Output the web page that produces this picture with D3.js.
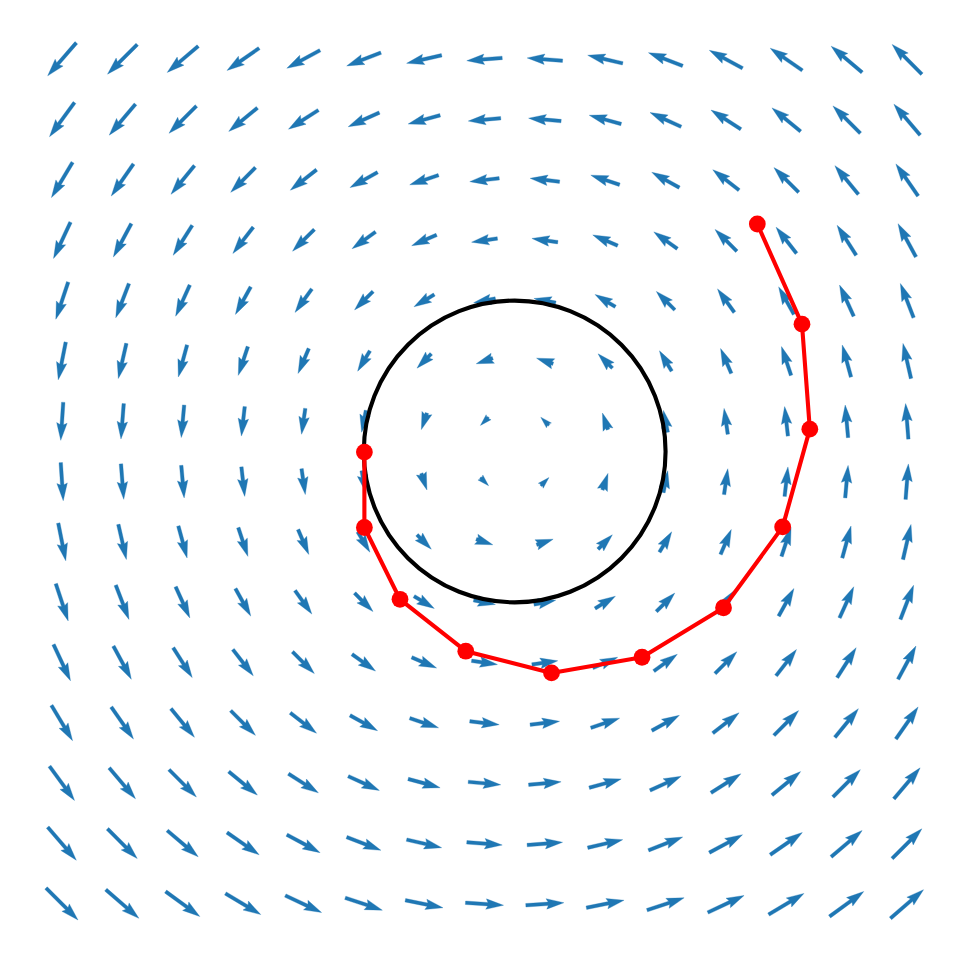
<!DOCTYPE html>
<html>
<head>
<meta charset="utf-8">
<script src="https://cdn.jsdelivr.net/npm/d3@7"></script>
<style>
  html, body { margin: 0; padding: 0; background: #ffffff; }
  svg { display: block; }
</style>
</head>
<body>
<div id="chart"></div>
<script>
// ---- data ----
// grid coordinates (data units)
const gridX = [0, 1, 2, 3, 4, 5, 6, 7, 8, 9, 10, 11, 12, 13, 14];
const gridY = [0, 1, 2, 3, 4, 5, 6, 7, 8, 9, 10, 11, 12, 13, 14];

// U (x-component) rows indexed by gridY, columns by gridX
const fieldU = [
  [ 2.30, 2.38, 2.46, 2.54, 2.61, 2.67, 2.71, 2.74, 2.74, 2.71, 2.67, 2.61, 2.54, 2.46, 2.38],
  [ 2.06, 2.14, 2.23, 2.31, 2.39, 2.46, 2.52, 2.55, 2.55, 2.52, 2.46, 2.39, 2.31, 2.23, 2.14],
  [ 1.80, 1.89, 1.97, 2.06, 2.15, 2.24, 2.30, 2.34, 2.34, 2.30, 2.24, 2.15, 2.06, 1.97, 1.89],
  [ 1.52, 1.60, 1.69, 1.78, 1.89, 1.98, 2.07, 2.12, 2.12, 2.07, 1.98, 1.89, 1.78, 1.69, 1.60],
  [ 1.22, 1.29, 1.37, 1.47, 1.57, 1.69, 1.79, 1.86, 1.86, 1.79, 1.69, 1.57, 1.47, 1.37, 1.29],
  [ 0.89, 0.95, 1.02, 1.10, 1.21, 1.33, 1.46, 1.57, 1.57, 1.46, 1.33, 1.21, 1.10, 1.02, 0.95],
  [ 0.54, 0.58, 0.63, 0.69, 0.77, 0.88, 1.03, 1.19, 1.19, 1.03, 0.88, 0.77, 0.69, 0.63, 0.58],
  [ 0.18, 0.20, 0.21, 0.24, 0.27, 0.31, 0.40, 0.59, 0.59, 0.40, 0.31, 0.27, 0.24, 0.21, 0.20],
  [-0.18,-0.20,-0.21,-0.24,-0.27,-0.31,-0.40,-0.59,-0.59,-0.40,-0.31,-0.27,-0.24,-0.21,-0.20],
  [-0.54,-0.58,-0.63,-0.69,-0.77,-0.88,-1.03,-1.19,-1.19,-1.03,-0.88,-0.77,-0.69,-0.63,-0.58],
  [-0.89,-0.95,-1.02,-1.10,-1.21,-1.33,-1.46,-1.57,-1.57,-1.46,-1.33,-1.21,-1.10,-1.02,-0.95],
  [-1.22,-1.29,-1.37,-1.47,-1.57,-1.69,-1.79,-1.86,-1.86,-1.79,-1.69,-1.57,-1.47,-1.37,-1.29],
  [-1.52,-1.60,-1.69,-1.78,-1.89,-1.98,-2.07,-2.12,-2.12,-2.07,-1.98,-1.89,-1.78,-1.69,-1.60],
  [-1.80,-1.89,-1.97,-2.06,-2.15,-2.24,-2.30,-2.34,-2.34,-2.30,-2.24,-2.15,-2.06,-1.97,-1.89],
  [-2.06,-2.14,-2.23,-2.31,-2.39,-2.46,-2.52,-2.55,-2.55,-2.52,-2.46,-2.39,-2.31,-2.23,-2.14]
];

// V (y-component) rows indexed by gridY, columns by gridX
const fieldV = [
  [-2.30,-2.06,-1.80,-1.52,-1.22,-0.89,-0.54,-0.18, 0.18, 0.54, 0.89, 1.22, 1.52, 1.80, 2.06],
  [-2.38,-2.14,-1.89,-1.60,-1.29,-0.95,-0.58,-0.20, 0.20, 0.58, 0.95, 1.29, 1.60, 1.89, 2.14],
  [-2.46,-2.23,-1.97,-1.69,-1.37,-1.02,-0.63,-0.21, 0.21, 0.63, 1.02, 1.37, 1.69, 1.97, 2.23],
  [-2.54,-2.31,-2.06,-1.78,-1.47,-1.10,-0.69,-0.24, 0.24, 0.69, 1.10, 1.47, 1.78, 2.06, 2.31],
  [-2.61,-2.39,-2.15,-1.89,-1.57,-1.21,-0.77,-0.27, 0.27, 0.77, 1.21, 1.57, 1.89, 2.15, 2.39],
  [-2.67,-2.46,-2.24,-1.98,-1.69,-1.33,-0.88,-0.31, 0.31, 0.88, 1.33, 1.69, 1.98, 2.24, 2.46],
  [-2.71,-2.52,-2.30,-2.07,-1.79,-1.46,-1.03,-0.40, 0.40, 1.03, 1.46, 1.79, 2.07, 2.30, 2.52],
  [-2.74,-2.55,-2.34,-2.12,-1.86,-1.57,-1.19,-0.59, 0.59, 1.19, 1.57, 1.86, 2.12, 2.34, 2.55],
  [-2.74,-2.55,-2.34,-2.12,-1.86,-1.57,-1.19,-0.59, 0.59, 1.19, 1.57, 1.86, 2.12, 2.34, 2.55],
  [-2.71,-2.52,-2.30,-2.07,-1.79,-1.46,-1.03,-0.40, 0.40, 1.03, 1.46, 1.79, 2.07, 2.30, 2.52],
  [-2.67,-2.46,-2.24,-1.98,-1.69,-1.33,-0.88,-0.31, 0.31, 0.88, 1.33, 1.69, 1.98, 2.24, 2.46],
  [-2.61,-2.39,-2.15,-1.89,-1.57,-1.21,-0.77,-0.27, 0.27, 0.77, 1.21, 1.57, 1.89, 2.15, 2.39],
  [-2.54,-2.31,-2.06,-1.78,-1.47,-1.10,-0.69,-0.24, 0.24, 0.69, 1.10, 1.47, 1.78, 2.06, 2.31],
  [-2.46,-2.23,-1.97,-1.69,-1.37,-1.02,-0.63,-0.21, 0.21, 0.63, 1.02, 1.37, 1.69, 1.97, 2.23],
  [-2.38,-2.14,-1.89,-1.60,-1.29,-0.95,-0.58,-0.20, 0.20, 0.58, 0.95, 1.29, 1.60, 1.89, 2.14]
];

// circle (data units)
const circleCenter = [7.5, 7.5];
const circleRadius = 2.5;

// red trajectory (data units)
const trajX = [11.52, 12.26, 12.39, 11.94, 10.96, 9.61, 8.11, 6.69, 5.60, 5.01, 5.01];
const trajY = [11.27, 9.61, 7.87, 6.25, 4.91, 4.09, 3.83, 4.19, 5.05, 6.24, 7.49];

// ---- drawing ----
const W = 969, H = 964;
const svg = d3.select("#chart").append("svg")
  .attr("width", W).attr("height", H)
  .style("font-family", "DejaVu Sans, sans-serif");

const x = d3.scaleLinear().domain([0, 14]).range([62, 907]);
const y = d3.scaleLinear().domain([0, 14]).range([904, 59.3]);
// arrow length scale (vector magnitude -> pixels)
const lenScale = d3.scaleLinear().domain([0, 1]).range([0, 13.9]);

const shaftW = 3.5;           // quiver shaft width (px)
const headWidth = 3, headLength = 5, headAxisLength = 4.5, minShaft = 1;

function arrowPoints(L) {
  const w = shaftW;
  const minsh = minShaft * headLength * w;
  let xs, ys;
  if (L < minsh) {
    const s = L / minsh;
    xs = [0, (minShaft * headLength - headAxisLength) * w * s, (minShaft * headLength - headLength) * w * s, minsh * s];
    ys = [0.5 * w * s, 0.5 * w * s, 0.5 * headWidth * w * s, 0];
  } else {
    xs = [0, L - headAxisLength * w, L - headLength * w, L];
    ys = [0.5 * w, 0.5 * w, 0.5 * headWidth * w, 0];
  }
  const half = xs[3] / 2;
  const idx = [0, 1, 2, 3, 2, 1, 0];
  const sign = [1, 1, 1, 1, -1, -1, -1];
  return idx.map((k, n) => [xs[k] - half, ys[k] * sign[n]]);
}

const arrows = [];
gridY.forEach((gy, j) => {
  gridX.forEach((gx, i) => {
    arrows.push({ gx, gy, u: fieldU[j][i], v: fieldV[j][i] });
  });
});

const gArrows = svg.append("g");
gArrows.selectAll("path.arrow")
  .data(arrows)
  .join("path")
  .attr("class", "arrow")
  .attr("d", d => {
    const L = lenScale(Math.hypot(d.u, d.v));
    return d3.line()(arrowPoints(L)) + "Z";
  })
  .attr("transform", d => {
    const ang = Math.atan2(-d.v, d.u) * 180 / Math.PI;
    return `translate(${x(d.gx)},${y(d.gy)}) rotate(${ang})`;
  })
  .attr("fill", "#1f77b4")
  .attr("stroke", "#1f77b4")
  .attr("stroke-width", 0.3);

// circle
svg.append("circle")
  .attr("cx", x(circleCenter[0]))
  .attr("cy", y(circleCenter[1]))
  .attr("r", x(circleCenter[0] + circleRadius) - x(circleCenter[0]))
  .attr("fill", "none")
  .attr("stroke", "#000000")
  .attr("stroke-width", 4.1);

// trajectory
const traj = trajX.map((vx, k) => [vx, trajY[k]]);
svg.append("path")
  .datum(traj)
  .attr("d", d3.line().x(d => x(d[0])).y(d => y(d[1])))
  .attr("fill", "none")
  .attr("stroke", "#ff0000")
  .attr("stroke-width", 4.1)
  .attr("stroke-linejoin", "round");

svg.selectAll("circle.pt")
  .data(traj)
  .join("circle")
  .attr("class", "pt")
  .attr("cx", d => x(d[0]))
  .attr("cy", d => y(d[1]))
  .attr("r", 8.4)
  .attr("fill", "#ff0000");
</script>
</body>
</html>
